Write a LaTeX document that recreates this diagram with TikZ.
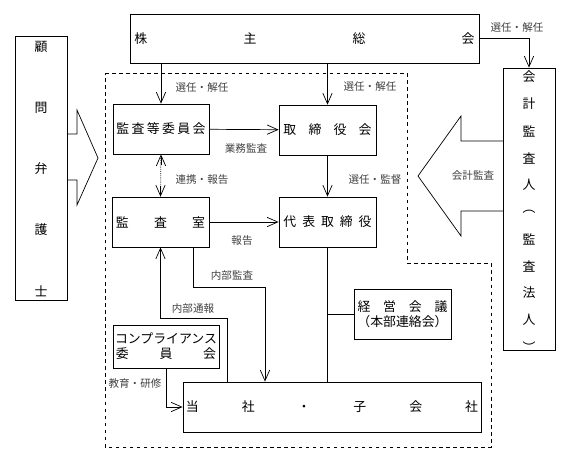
\documentclass[tikz,border=0pt]{standalone}
\usepackage{fontspec}
\setmainfont{Noto Sans CJK JP}
\usetikzlibrary{arrows.meta}

\begin{document}
\begin{tikzpicture}[x=0.03cm,y=-0.03cm,semithick,
  every node/.style={font=\fontsize{11}{13}\selectfont},
  box/.style={draw,inner sep=0pt,minimum height=1.5cm,minimum width=2.91cm},
  lbl/.style={font=\small,text=black!75,inner sep=1pt},
  arr/.style={-{Straight Barb[length=3.2mm,width=2.8mm]}}]
\useasboundingbox (0,0) rectangle (575,462);
% boxes
\node[box,minimum width=10.47cm,minimum height=1.47cm] (kabu) at (304.5,38.5)
  {\makebox[10.2cm]{株\hfill 主\hfill 総\hfill 会}};
\node[box,minimum width=1.56cm,minimum height=7.92cm] (komon) at (41,168) {};
\foreach \c [count=\i] in {顧,問,弁,護,士}
  \node (k\i) at (41,{47+61*(\i-1)}) {\c};
\node[box,minimum width=1.56cm,minimum height=8.46cm] (kaikei) at (529,209) {};
\foreach \c [count=\i] in {会,計,監,査,人,︵,監,査,法,人,︶}
  \node (a\i) at (529,{77+27*(\i-1)}) {\c};
\node[box,minimum width=2.88cm] (kansa) at (161,129)
  {\makebox[2.67cm]{監\hfill 査\hfill 等\hfill 委\hfill 員\hfill 会}};
\node[box] (tori) at (327.5,130)
  {\makebox[2.64cm]{取\hfill 締\hfill 役\hfill 会}};
\node[box] (shitsu) at (160.5,222)
  {\makebox[2.67cm]{監\hfill 査\hfill 室}};
\node[box] (daihyo) at (327.5,222)
  {\makebox[2.64cm]{代\hfill 表\hfill 取\hfill 締\hfill 役}};
\node[box,minimum width=3.18cm,minimum height=1.29cm,align=center] (comp) at (166,346.5)
  {コンプライアンス\\\makebox[3cm]{委\hfill 員\hfill 会}};
\node[box,align=center] (keiei) at (402.5,314)
  {\makebox[2.7cm]{経\hfill 営\hfill 会\hfill 議}\\（本部連絡会）};
\node[box,minimum width=8.94cm] (tosha) at (332,407)
  {\makebox[8.76cm]{当\hfill 社\hfill ・\hfill 子\hfill 会\hfill 社}};

% block arrows
\draw (67,134) -- (77,134) -- (77,110) -- (98,158) -- (77,205) -- (77,180) -- (67,180);
\draw (503,141) -- (461,141) -- (461,116) -- (418,176) -- (461,236) -- (461,211) -- (503,211);

% dashed area
\draw[dashed] (105,73) -- (407,73) -- (407,263) -- (491,263) -- (491,447) -- (105,447) -- cycle;

% connectors
\draw[arr] (kansa.north |- kabu.south) -- (kansa.north);
\draw[arr] (tori.north |- kabu.south) -- (tori.north);
\draw[arr] (kabu.east) -| (kaikei.north);
\draw[arr] (kansa) -- (tori);
\draw[densely dotted] (kansa) -- (shitsu);
\draw[arr] ([yshift=-3.3mm]kansa.south) -- (kansa.south);
\draw[arr] ([yshift=3.3mm]shitsu.north) -- (shitsu.north);
\draw[arr] (tori) -- (daihyo);
\draw[arr] (shitsu) -- (daihyo);
\coordinate (naibu) at (265,287);
\draw[arr] ([xshift=0.98cm]shitsu.south) |- (naibu) -- (naibu |- tosha.north);
\coordinate (tsuho) at (227,318);
\draw[arr] (tsuho |- tosha.north) -- (tsuho) -| (shitsu.south);
\draw[arr] (comp.south) |- (tosha.west);
\draw (daihyo.south) -- (daihyo.south |- tosha.north);
\draw (daihyo.south |- keiei.west) -- (keiei.west);

% labels
\node[lbl] (l1) at (202,87) {選任・解任};
\node[lbl] (l2) at (370,86) {選任・解任};
\node[lbl] (l3) at (517,27) {選任・解任};
\node[lbl] (l4) at (246,148) {業務監査};
\node[lbl] (l5) at (202,180) {連携・報告};
\node[lbl] (l6) at (375,179) {選任・監督};
\node[lbl] (l7) at (473,176) {会計監査};
\node[lbl] (l8) at (242,241) {報告};
\node[lbl] (l9) at (232,275) {内部監査};
\node[lbl] (l10) at (193,308) {内部通報};
\node[lbl] (l11) at (135,384) {教育・研修};
\end{tikzpicture}
\end{document}
